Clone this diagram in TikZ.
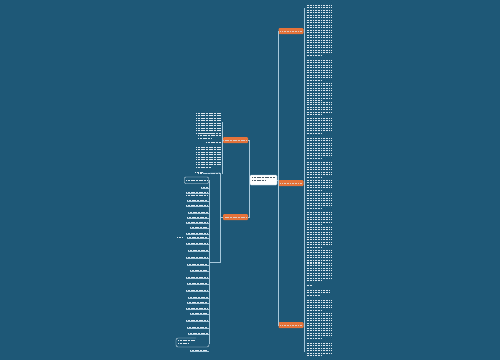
\documentclass[tikz,border=0pt]{standalone}
\usetikzlibrary{calc}
\definecolor{bg}{HTML}{1E5877}
\definecolor{org}{HTML}{E5733A}
\definecolor{conn}{HTML}{A7C9DC}
\definecolor{txt}{HTML}{DDE7EE}
\definecolor{dk}{HTML}{4A5A66}
\newcommand{\tblock}[5]{%
  \pgfmathtruncatemacro{\nl}{max(1,round((#4-#3)/2.5)+1)}%
  \foreach \i in {1,...,\nl}{%
    \pgfmathsetmacro{\yy}{#3+(\i-1)*2.5}%
    \pgfmathsetmacro{\xe}{ifthenelse(and(\i==\nl,\nl>1),#1+0.6*(#2-#1),#2)}%
    \draw[#5,line width=0.75pt,dash pattern=on 1.1pt off 0.5pt] (#1,\yy) -- (\xe,\yy);
  }}
\tikzset{
  onode/.style={fill=org,rounded corners=1pt,minimum width=25pt,minimum height=6pt,inner sep=0pt},
  cnode/.style={fill=white,draw=conn,line width=0.3pt,rounded corners=1pt,minimum width=27pt,minimum height=10pt,inner sep=0pt},
  link/.style={draw=conn,line width=0.6pt},
}
\begin{document}
\begin{tikzpicture}[x=1pt,y=-1pt]
\fill[bg] (0,0) rectangle (500,360);
\useasboundingbox (0,0) rectangle (500,360);

% central node
\node[cnode] (C) at (263.5,180) {};
\tblock{252}{275}{177.8}{180.3}{dk}
% orange nodes
\node[onode] (R1) at (291,31) {};
\node[onode] (R2) at (291,183) {};
\node[onode] (R3) at (291,325) {};
\node[onode] (A) at (235.5,140) {};
\node[onode] (B) at (235.5,217) {};
\foreach \n in {R1,R2,R3,A,B}{
  \draw[txt!75!org,line width=0.8pt,dash pattern=on 1.1pt off 0.5pt] ($(\n.west)+(2,0)$) -- ($(\n.east)+(-2,0)$);
}

% centre to right
\coordinate (cr) at (279,180);
\draw[link] (C.east) -- (cr);
\draw[link] (R1.west) -- ++(-0.5,0) |- (cr);
\draw[link] (R3.west) -- ++(-0.5,0) |- (cr);
\draw[link] (R2.west) -- ++(-0.5,0) |- (cr);
% centre to left
\coordinate (cl) at (249,180);
\draw[link] (C.west) -- (cl);
\draw[link] (A.east) -- ++(0.6,0) |- (cl);
\draw[link] (B.east) -- ++(0.6,0) |- (cl);

% right column
\coordinate (s1) at (304.5,31);
\coordinate (s2) at (304.5,183);
\coordinate (s3) at (304.5,325);
\draw[link] (R1.east) -- (s1);
\draw[link] (R2.east) -- (s2);
\draw[link] (R3.east) -- (s3);
\draw[link] (304.5,8) -- (304.5,352);
\foreach \a/\b/\w in {5/55/332,60/80/331,83/100/332,102/115/331,118/133/332,138/157/332,162/178/331,180/190/332,193/208/332,212/225/331,227/247/332,250/262/332,263/280/332,290/295/330,300/310/332,313/327/331,328/338/332,343/355/332}{
  \tblock{306.5}{\w}{\a}{\b}{txt}
}
\tblock{306.5}{312}{285.5}{285.5}{txt}

% left top group
\coordinate (la) at (222.5,140);
\draw[link] (A.west) -- (la);
\draw[link] (222.5,122) -- (222.5,174);
\foreach \a/\b/\w in {113/132/196,133/138/198,147/168/196}{
  \tblock{\w}{221}{\a}{\b}{txt}
}
\tblock{206}{221}{142.5}{142.5}{txt}
\tblock{198}{221}{173.5}{173.5}{txt}

% left bottom group
\coordinate (lb) at (220,217);
\draw[link] (B.west) -- (lb);
\draw[link] (220,173) -- (220,262) -- (209,262);
\draw[link] (209,180) -- (209,344);
\tblock{195}{203}{172.5}{172.5}{txt}
\draw[link] (203,173.5) -- (220,173);
% title subnode
\draw[txt,line width=0.4pt,rounded corners=1pt] (184.5,177) rectangle (208.5,183.5);
\tblock{186}{207}{180}{180}{txt}
\foreach \y/\l in {187/201,192/186,200/187,205/186,212/188,217/187,222/186,227/190,233/186,237/187,243/186,250/188,257/186,264/187,270/190,277/186,283/187,290/186,297/188,302/187,308/186,313/190,320/186,327/187,333/188,350/190}{
  \tblock{\l}{207.5}{\y}{\y}{txt}
  \draw[link,line width=0.35pt] (\l,\y+1.3) -- (209,\y+1.3);
}
\tblock{186}{207.5}{195}{195}{txt}
\tblock{177}{183}{237}{237}{txt}
% bottom bracket item
\tblock{178}{195}{340.5}{344}{txt}
\draw[txt,line width=0.4pt,rounded corners=2pt] (196,338) -- (176,338) -- (176,347) -- (209,347) -- (209,344);
\end{tikzpicture}
\end{document}
